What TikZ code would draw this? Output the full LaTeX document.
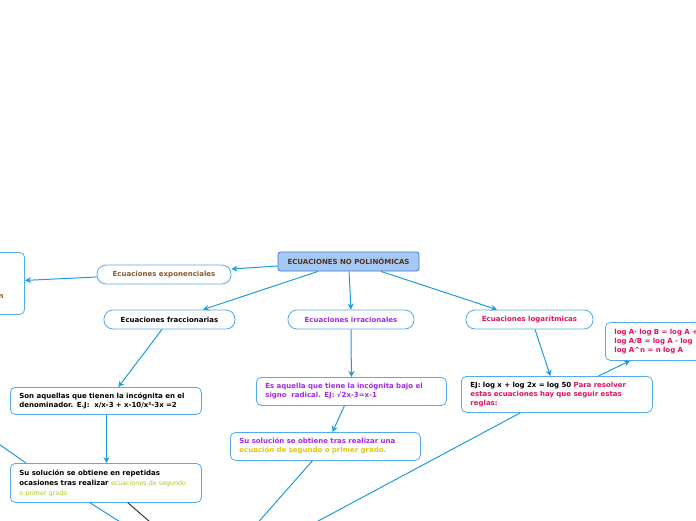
\documentclass[tikz,border=0pt]{standalone}
\usepackage{fontspec}
\setmainfont{DejaVu Sans}
\usetikzlibrary{arrows.meta}

\definecolor{linkblue}{RGB}{30,155,225}
\definecolor{boxblue}{RGB}{85,170,235}
\definecolor{rootfill}{RGB}{166,200,245}
\definecolor{rootline}{RGB}{60,120,210}
\definecolor{txtbrown}{RGB}{135,90,50}
\definecolor{txtdark}{RGB}{80,50,25}
\definecolor{txtpurple}{RGB}{160,40,230}
\definecolor{txtred}{RGB}{225,20,90}
\definecolor{txtyellow}{RGB}{225,200,0}
\definecolor{txtgreen}{RGB}{170,200,30}
\definecolor{darkline}{RGB}{55,55,55}

\tikzset{
  small/.style={font=\fontsize{7}{9}\selectfont\bfseries},
  conn/.style={draw=linkblue, line width=1pt},
  arr/.style={conn, -{Stealth[length=6pt,width=6pt]}},
  pill/.style={small, draw=boxblue, line width=0.8pt, fill=white, rounded corners=9pt,
    minimum height=19pt, inner sep=0pt},
  card/.style={small, draw=boxblue, line width=0.8pt, fill=white, rounded corners=5pt,
    anchor=north west, align=left, inner xsep=9pt, inner ysep=3pt},
}

\begin{document}
\begin{tikzpicture}[x=1pt, y=-1pt]
    \useasboundingbox (0,0) rectangle (696,520);
    % central topic
    \node[small, draw=rootline, line width=0.8pt, fill=rootfill, rounded corners=2.5pt,
      minimum width=141pt, minimum height=19pt, inner sep=0pt, text=txtdark]
      (root) at (348.5,261.5) {ECUACIONES NO POLINÓMICAS};

    % main branches
    \node[pill, minimum width=134pt, text=txtbrown] (expo) at (164,274.5) {Ecuaciones exponenciales};
    \node[pill, minimum width=131pt] (fracc) at (169.5,319.5) {Ecuaciones fraccionarias};
    \node[pill, minimum width=126pt, text=txtpurple] (irrac) at (351,319.5) {Ecuaciones irracionales};
    \node[pill, minimum width=127pt, text=txtred] (logar) at (529.5,319.5) {Ecuaciones logarítmicas};

    % exponential box (mostly off the page)
    \node[card, anchor=north east, minimum width=70pt, minimum height=62pt] (expdef) at (25,252) {};
    \node[small, text=txtbrown, inner sep=0pt] (expdeftxt) at (1,297) {n};

    % fractional
    \node[card, text width=173pt, minimum height=27pt] (fracdef) at (10,387)
      {Son aquellas que tienen la incógnita en el\\denominador. E.J:\ \ x/x-3 + x-10/x²-3x =2};
    \node[card, text width=173pt, minimum height=39pt,
      font=\fontsize{7}{10}\selectfont\bfseries] (fracsol) at (10,463)
      {Su solución se obtiene en repetidas\\\mbox{ocasiones tras realizar
       {\fontsize{6.3}{10}\selectfont\mdseries\color{txtgreen}ecuaciones de segundo}}\\
       {\fontsize{6.3}{10}\selectfont\mdseries\color{txtgreen}o primer grado}};

    % irrational
    \node[card, text width=172pt, minimum height=28pt, text=txtpurple] (irrdef) at (256,377)
      {Es aquella que tiene la incógnita bajo el\\signo\ \ radical. EJ: √2x-3=x-1};
    \node[card, text width=172pt, minimum height=28pt, text=txtpurple] (irrsol) at (230,432)
      {Su solución se obtiene tras realizar una\\{\color{txtyellow}ecuación de segundo o primer grado.}};

    % logarithmic
    \node[card, text width=173pt, minimum height=36pt] (logdef) at (461,376)
      {EJ: log x + log 2x = log 50 {\color{txtred}Para resolver\\estas ecuaciones hay que seguir estas\\reglas:}};
    \node[card, text width=100pt, minimum height=38pt, text=txtred] (logrules) at (605,322)
      {log A· log B = log A +\\log A/B = log A - log\\log A\^{}n = n log A};

    % ends of links that run off the page
    \coordinate (offL) at (-20,431);
    \coordinate (offA) at (141,535);
    \coordinate (offB) at (165,535);
    \coordinate (offC) at (247,535);
    \coordinate (offD) at (292,535);

    % links
    \draw[arr] ([yshift=-4.5pt]root.west) -- ([yshift=5.5pt]expo.east);
    \draw[arr] ([yshift=-2.5pt]expo.west) -- ([yshift=3pt]expdef.east);
    \draw[arr] ([xshift=-30.5pt]root.south) -- ([xshift=33.5pt]fracc.north);
    \draw[arr] ([xshift=0.5pt]root.south) -- (irrac.north);
    \draw[arr] ([xshift=32.5pt]root.south) -- ([xshift=-32.5pt]logar.north);
    \draw[arr] ([xshift=-7.5pt]fracc.south) -- ([xshift=12.5pt]fracdef.north);
    \draw[arr] ([xshift=0.5pt]fracdef.south) -- ([xshift=0.5pt]fracsol.north);
    \draw[arr] (irrac.south) -- (irrdef.north);
    \draw[arr] ([xshift=-7pt]irrdef.south) -- ([xshift=7pt]irrsol.north);
    \draw[arr] ([xshift=5.5pt]logar.south) -- ([xshift=-6.5pt]logdef.north);
    \draw[arr] ([xshift=41.5pt]logdef.north) -- ([xshift=25pt]logrules.south west);
    \draw[conn] (offL) -- ([xshift=16pt]fracsol.north west);
    \draw[conn] ([xshift=-16pt]fracsol.south) -- (offA);
    \draw[draw=darkline, line width=1pt] ([xshift=22pt]fracsol.south) -- (offB);
    \draw[conn] ([xshift=-13pt]irrsol.south) -- (offC);
    \draw[conn] ([xshift=-36.5pt]logdef.south) -- (offD);
\end{tikzpicture}
\end{document}
